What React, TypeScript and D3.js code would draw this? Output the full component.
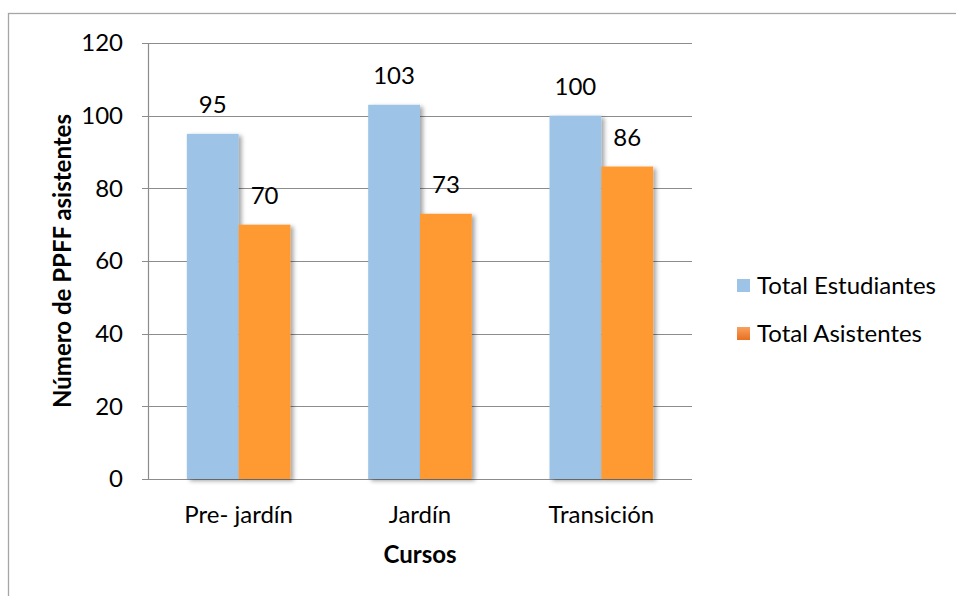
import * as d3 from "d3";
import { useEffect, useRef } from "react";

const cursos = ["Pre- jardín", "Jardín", "Transición"];
const seriesNames = ["Total Estudiantes", "Total Asistentes"];
const totalEstudiantes = [95, 103, 100];
const totalAsistentes = [70, 73, 86];
const yTicks = [0, 20, 40, 60, 80, 100, 120];

const colors = ["#9DC3E6", "#FF9933"];
const FONT = "Lato, 'Open Sans', sans-serif";
const FS = 24;

const App: React.FC = () => {
  const ref = useRef<SVGSVGElement | null>(null);

  useEffect(() => {
    if (!ref.current) return;
    const svg = d3.select(ref.current);
    svg.selectAll("*").remove();

    const width = 956;
    const height = 596;
    const margin = { top: 43, left: 148, right: 264, bottom: 117 };
    const innerW = width - margin.left - margin.right;
    const innerH = height - margin.top - margin.bottom;

    const defs = svg.append("defs");
    const shadow = defs
      .append("filter")
      .attr("id", "shadow")
      .attr("x", "-20%")
      .attr("y", "-10%")
      .attr("width", "150%")
      .attr("height", "130%");
    shadow
      .append("feDropShadow")
      .attr("dx", 3)
      .attr("dy", 2)
      .attr("stdDeviation", 2.2)
      .attr("flood-color", "#000")
      .attr("flood-opacity", 0.35);

    const orangeGrad = defs
      .append("linearGradient")
      .attr("id", "orangeLegend")
      .attr("x1", 0)
      .attr("y1", 0)
      .attr("x2", 0)
      .attr("y2", 1);
    orangeGrad.append("stop").attr("offset", "0%").attr("stop-color", "#F9A060");
    orangeGrad.append("stop").attr("offset", "100%").attr("stop-color", "#E8701E");

    // chart border
    svg
      .append("rect")
      .attr("x", 8.5)
      .attr("y", 13.5)
      .attr("width", 1000)
      .attr("height", 700)
      .attr("fill", "white")
      .attr("stroke", "#A6A6A6")
      .attr("stroke-width", 1.3);

    const g = svg
      .append("g")
      .attr("transform", `translate(${margin.left},${margin.top})`);

    const x0 = d3
      .scaleBand<string>()
      .domain(cursos)
      .range([0, innerW])
      .paddingInner(0)
      .paddingOuter(0);

    const bw = x0.bandwidth() / 3.5;
    const x1 = d3
      .scaleBand<string>()
      .domain(seriesNames)
      .range([0, bw * 2]);

    const y = d3.scaleLinear().domain([0, 120]).range([innerH, 0]);

    // gridlines
    g.selectAll("line.grid")
      .data(yTicks)
      .join("line")
      .attr("class", "grid")
      .attr("x1", -6)
      .attr("x2", innerW)
      .attr("y1", (d) => Math.round(y(d)) + 0.5)
      .attr("y2", (d) => Math.round(y(d)) + 0.5)
      .attr("stroke", "#8C8C8C")
      .attr("stroke-width", 1.2);

    // y axis line
    g.append("line")
      .attr("x1", 0.5)
      .attr("x2", 0.5)
      .attr("y1", 0)
      .attr("y2", innerH)
      .attr("stroke", "#8C8C8C")
      .attr("stroke-width", 1.2);

    g.selectAll("text.ytick")
      .data(yTicks)
      .join("text")
      .attr("class", "ytick")
      .attr("x", -25)
      .attr("y", (d) => y(d))
      .attr("dy", "0.35em")
      .attr("text-anchor", "end")
      .attr("font-family", FONT)
      .attr("font-size", FS)
      .attr("fill", "#000")
      .text((d) => d);

    const seriesData = [totalEstudiantes, totalAsistentes];

    cursos.forEach((c, i) => {
      const gx = x0(c)! + (x0.bandwidth() - bw * 2) / 2;
      seriesNames.forEach((s, j) => {
        const v = seriesData[j][i];
        g.append("rect")
          .attr("x", gx + x1(s)!)
          .attr("y", y(v))
          .attr("width", x1.bandwidth())
          .attr("height", innerH - y(v))
          .attr("fill", colors[j])
          .attr("filter", "url(#shadow)");
      });
    });

    cursos.forEach((c, i) => {
      const gx = x0(c)! + (x0.bandwidth() - bw * 2) / 2;
      seriesNames.forEach((s, j) => {
        const v = seriesData[j][i];
        g.append("text")
          .attr("x", gx + x1(s)! + x1.bandwidth() / 2)
          .attr("y", y(v) - 21)
          .attr("text-anchor", "middle")
          .attr("font-family", FONT)
          .attr("font-size", FS)
          .attr("fill", "#000")
          .text(v);
      });
    });

    // x axis tick labels
    g.selectAll("text.xtick")
      .data(cursos)
      .join("text")
      .attr("class", "xtick")
      .attr("x", (d) => x0(d)! + x0.bandwidth() / 2)
      .attr("y", innerH + 44)
      .attr("text-anchor", "middle")
      .attr("font-family", FONT)
      .attr("font-size", FS)
      .attr("fill", "#000")
      .text((d) => d);

    // axis titles
    g.append("text")
      .attr("x", innerW / 2)
      .attr("y", innerH + 84)
      .attr("text-anchor", "middle")
      .attr("font-family", FONT)
      .attr("font-weight", "bold")
      .attr("font-size", FS)
      .text("Cursos");

    svg
      .append("text")
      .attr("transform", `translate(71,${margin.top + innerH / 2}) rotate(-90)`)
      .attr("text-anchor", "middle")
      .attr("font-family", FONT)
      .attr("font-weight", "bold")
      .attr("font-size", FS)
      .text("Número de PPFF asistentes");

    // legend
    const legend = svg.append("g").attr("transform", "translate(737,279)");
    seriesNames.forEach((s, j) => {
      const row = legend.append("g").attr("transform", `translate(0,${j * 48})`);
      row
        .append("rect")
        .attr("width", 13)
        .attr("height", 13)
        .attr("fill", j === 0 ? colors[0] : "url(#orangeLegend)");
      row
        .append("text")
        .attr("x", 20)
        .attr("y", 6.5)
        .attr("dy", "0.35em")
        .attr("font-family", FONT)
        .attr("font-size", FS)
        .attr("fill", "#000")
        .text(s);
    });
  }, []);

  return (
    <svg
      ref={ref}
      width={956}
      height={596}
      style={{ position: "absolute", left: 0, top: 0, display: "block" }}
    />
  );
};

export default App;
